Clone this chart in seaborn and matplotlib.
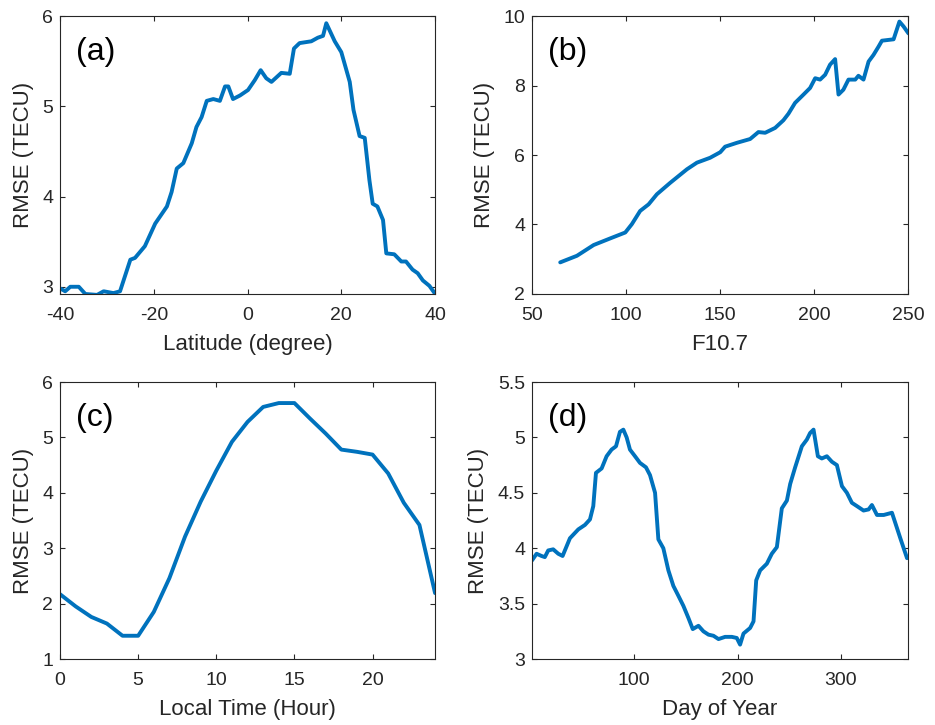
import matplotlib
matplotlib.use("Agg")
import matplotlib.pyplot as plt
import seaborn as sns
import pandas as pd

# (a) RMSE versus latitude
lat = [-39.9, -38.9, -37.8, -36.0, -34.6, -32.1, -30.7, -28.6, -27.2, -25.0, -24.0,
       -21.9, -19.7, -17.2, -16.2, -15.1, -13.7, -11.9, -10.9, -9.8, -8.7, -7.3,
       -5.9, -4.8, -4.1, -3.1, -1.6, 0.1, 1.55, 2.8, 4.0, 5.1, 7.2, 9.0, 9.9, 11.1,
       13.6, 15.0, 16.1, 16.8, 18.6, 20.0, 21.8, 22.6, 23.9, 25.0, 26.0, 26.7, 27.7,
       28.9, 29.6, 31.3, 32.8, 33.8, 35.2, 36.3, 37.4, 38.8, 39.9]
rmse_lat = [2.98, 2.95, 3.00, 3.00, 2.92, 2.91, 2.95, 2.93, 2.95, 3.30, 3.32,
            3.45, 3.70, 3.89, 4.05, 4.31, 4.37, 4.59, 4.77, 4.88, 5.06, 5.08,
            5.06, 5.22, 5.22, 5.08, 5.12, 5.18, 5.29, 5.40, 5.31, 5.27, 5.37, 5.36, 5.64, 5.70,
            5.72, 5.76, 5.78, 5.92, 5.72, 5.60, 5.27, 4.96, 4.67, 4.65, 4.18, 3.92, 3.89,
            3.74, 3.37, 3.36, 3.28, 3.28, 3.19, 3.15, 3.07, 3.01, 2.93]

# (b) RMSE versus solar flux index F10.7
f107 = [65.0, 73.9, 82.8, 91.6, 99.6, 103.1, 107.5, 112.0, 116.4, 123.5, 132.4,
        137.7, 144.7, 150.1, 152.7, 158.9, 166.0, 170.4, 174.0, 179.3, 183.7, 186.4,
        189.9, 194.4, 197.9, 200.6, 203.2, 205.9, 208.5, 211.2, 213.0, 215.6, 218.3,
        221.9, 223.6, 226.3, 229.0, 231.6, 234.3, 236.1, 242.3, 245.4, 247.6, 250.2]
rmse_f107 = [2.91, 3.10, 3.41, 3.60, 3.77, 4.01, 4.39, 4.58, 4.87, 5.20, 5.59,
             5.78, 5.92, 6.08, 6.24, 6.35, 6.46, 6.66, 6.64, 6.78, 7.00, 7.19,
             7.50, 7.74, 7.93, 8.21, 8.17, 8.31, 8.60, 8.76, 7.74, 7.88, 8.17,
             8.17, 8.28, 8.17, 8.69, 8.88, 9.12, 9.29, 9.33, 9.84, 9.70, 9.50]

# (c) RMSE versus local time
local_time = list(range(0, 25))
rmse_lt = [2.17, 1.95, 1.76, 1.64, 1.42, 1.42, 1.85, 2.46, 3.21, 3.84, 4.40, 4.92,
           5.28, 5.55, 5.62, 5.62, 5.34, 5.07, 4.78, 4.74, 4.69, 4.35, 3.82, 3.42, 2.19]

# (d) RMSE versus day of year
doy = [1, 5.4, 10.2, 13.4, 16.7, 21.5, 26.4, 30.6, 37.7, 45.8, 52.2, 57.1, 60.3,
       62.9, 68.4, 73.2, 78.0, 82.3, 86.1, 89.4, 92.6, 95.8, 100.7, 105.5, 111.3,
       115.2, 120.1, 123.3, 128.1, 133.0, 137.8, 142.7, 147.5, 152.4, 156.6, 162.1,
       166.9, 171.8, 176.6, 181.5, 187.9, 194.4, 199.2, 202.4, 205.7, 212.1, 215.4,
       218.0, 221.8, 228.3, 233.1, 238.0, 242.8, 247.7, 250.9, 255.7, 262.2, 267.0,
       270.2, 273.5, 277.7, 281.5, 286.4, 291.3, 296.1, 301.0, 305.8, 310.6, 315.5,
       321.9, 326.8, 330.0, 334.9, 341.4, 349.4, 357.5, 364.0]
rmse_doy = [3.89, 3.95, 3.93, 3.92, 3.98, 3.99, 3.95, 3.93, 4.09, 4.17, 4.21, 4.26, 4.38,
            4.68, 4.72, 4.83, 4.89, 4.92, 5.05, 5.07, 5.00, 4.89, 4.83, 4.77, 4.73,
            4.66, 4.50, 4.08, 4.00, 3.80, 3.66, 3.57, 3.48, 3.37, 3.27, 3.30,
            3.25, 3.22, 3.21, 3.18, 3.20, 3.20, 3.19, 3.13, 3.23, 3.28, 3.34,
            3.71, 3.80, 3.86, 3.95, 4.01, 4.36, 4.43, 4.58, 4.73, 4.92, 4.98,
            5.04, 5.07, 4.83, 4.81, 4.83, 4.78, 4.75, 4.56, 4.50, 4.41, 4.38,
            4.34, 4.35, 4.39, 4.30, 4.30, 4.32, 4.09, 3.91]

sns.set_theme(style="ticks")
plt.rcParams["font.family"] = ["Liberation Sans", "DejaVu Sans"]
plt.rcParams["axes.unicode_minus"] = False
ink = "#262626"
line_color = "#0072BD"

fig = plt.figure(figsize=(9.35, 7.25), dpi=100)
boxes = {
    "a": [0.0642, 0.5945, 0.4011, 0.3834],
    "b": [0.5690, 0.5945, 0.4022, 0.3834],
    "c": [0.0642, 0.0910, 0.4011, 0.3821],
    "d": [0.5690, 0.0910, 0.4022, 0.3821],
}

panels = [
    ("a", lat, rmse_lat, "Latitude (degree)", (-40, 40), [-40, -20, 0, 20, 40],
     (2.92, 6), [3, 4, 5, 6], None),
    ("b", f107, rmse_f107, "F10.7", (50, 250), [50, 100, 150, 200, 250],
     (2, 10), [2, 4, 6, 8, 10], None),
    ("c", local_time, rmse_lt, "Local Time (Hour)", (0, 24), [0, 5, 10, 15, 20],
     (1, 6), [1, 2, 3, 4, 5, 6], None),
    ("d", doy, rmse_doy, "Day of Year", (1, 365), [100, 200, 300],
     (3, 5.5), [3, 3.5, 4, 4.5, 5, 5.5], ["3", "3.5", "4", "4.5", "5", "5.5"]),
]

for key, xs, ys, xlabel, xlim, xticks, ylim, yticks, ylabels in panels:
    ax = fig.add_axes(boxes[key])
    df = pd.DataFrame({"x": xs, "y": ys})
    sns.lineplot(data=df, x="x", y="y", ax=ax, color=line_color, linewidth=2.8,
                 sort=False, estimator=None)
    ax.set_xlim(*xlim)
    ax.set_ylim(*ylim)
    ax.set_xticks(xticks)
    ax.set_yticks(yticks)
    if ylabels is not None:
        ax.set_yticklabels(ylabels)
    ax.set_xlabel(xlabel, fontsize=16, color=ink, labelpad=7)
    ax.set_ylabel("RMSE (TECU)", fontsize=16, color=ink, labelpad=6)
    for side in ["top", "right", "bottom", "left"]:
        ax.spines[side].set_visible(True)
        ax.spines[side].set_color(ink)
        ax.spines[side].set_linewidth(0.8)
    ax.tick_params(direction="in", length=3.5, width=0.8, colors=ink,
                   labelsize=14, top=True, right=True)
    ax.tick_params(axis="x", pad=9.5)
    ax.tick_params(axis="y", pad=5)
    ax.text(0.043, 0.84, f"({key})", transform=ax.transAxes, fontsize=23,
            color="black", ha="left", va="baseline")

fig.savefig("out.png", dpi=100)
